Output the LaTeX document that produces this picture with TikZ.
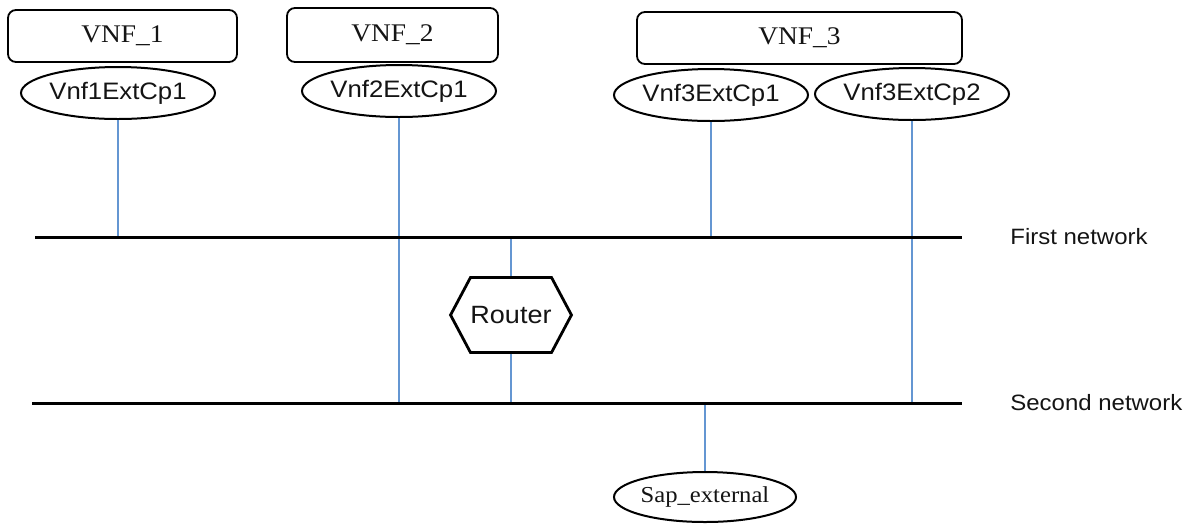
\documentclass[tikz,border=0pt]{standalone}
\usepackage{fontspec}
\usetikzlibrary{shapes.geometric, shapes.symbols, positioning, calc}
\newfontfamily\cpfont{Liberation Sans}[FakeStretch=1.08]
\newfontfamily\vnffont{Liberation Serif}[FakeStretch=1.08]
\definecolor{colLink}{RGB}{100,150,210}
\definecolor{colText}{RGB}{20,20,20}
\tikzset{
    vnfbox/.style={rectangle, draw=black, rounded corners=4pt, line width=0.9pt,
        inner sep=0pt, align=center, text=colText, font=\vnffont\fontsize{12.7}{14}\selectfont},
    extcp/.style={ellipse, draw=black, line width=1pt, inner sep=0pt,
        minimum width=81pt, minimum height=26pt, fill=white, text=colText,
        font=\cpfont\fontsize{11.9}{13}\selectfont},
    sapcp/.style={extcp, minimum width=91pt, minimum height=25pt,
        font=\vnffont\fontsize{11.4}{13}\selectfont},
    routerbox/.style={signal, signal to=west and east, signal pointer angle=124,
        draw=black, line width=1.4pt, inner sep=0pt, minimum width=59.5pt,
        minimum height=37.5pt, fill=white, text=colText,
        font=\cpfont\fontsize{12.5}{14}\selectfont},
    netline/.style={line width=1.5pt, black},
    link/.style={line width=0.8pt, colLink},
    netlabel/.style={anchor=west, inner sep=0pt, text=colText,
        font=\cpfont\fontsize{11.1}{13}\selectfont}
}

\begin{document}
\begin{tikzpicture}[x=0.5pt, y=-0.5pt]
    \useasboundingbox (0,0) rectangle (1189,526);

    % the two networks
    \coordinate (n1w) at (35,237);
    \coordinate (n1e) at (962,237);
    \coordinate (n2w) at (32,403);
    \coordinate (n2e) at (962,403);

    % VNFs
    \node[vnfbox, minimum width=114.5pt, minimum height=26pt] (vnf1) at (122.5,36) {VNF\_1};
    \node[vnfbox, minimum width=105.5pt, minimum height=27pt] (vnf2) at (392.5,35) {VNF\_2};
    \node[vnfbox, minimum width=162.5pt, minimum height=26pt] (vnf3) at (799.5,38) {VNF\_3};

    % external connection points
    \node[extcp] (cp11) at (118,93) {Vnf1ExtCp1};
    \node[extcp] (cp21) at (399,91) {Vnf2ExtCp1};
    \node[extcp, minimum width=77pt] (cp31) at (711,95) {Vnf3ExtCp1};
    \node[extcp] (cp32) at (912,94) {Vnf3ExtCp2};

    \node[routerbox] (router) at (511,315) {Router};
    \node[sapcp] (sap) at (705,497) {Sap\_external};

    \node[netlabel, right=24pt of n1e] (lbl1) {First network};
    \node[netlabel, right=24pt of n2e] (lbl2) {Second network};

    % links
    \draw[link] (cp11.south) -- (cp11.south |- n1w);
    \draw[link] (cp21.south) -- (cp21.south |- n2w);
    \draw[link] (cp31.south) -- (cp31.south |- n1w);
    \draw[link] (cp32.south) -- (cp32.south |- n2w);
    \draw[link] (router.north) -- (router.north |- n1w);
    \draw[link] (router.south) -- (router.south |- n2w);
    \draw[link] (sap.north) -- (sap.north |- n2w);

    \draw[netline] (n1w) -- (n1e);
    \draw[netline] (n2w) -- (n2e);

\end{tikzpicture}
\end{document}
